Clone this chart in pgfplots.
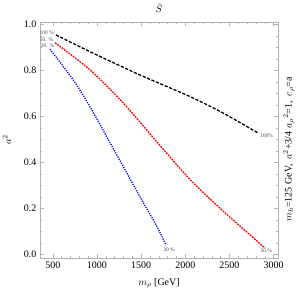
\documentclass[border=0pt]{standalone}
\usepackage{fontspec}
\setmainfont{Liberation Serif}
\usepackage{pgfplots}
\pgfplotsset{compat=1.18}
\begin{document}
\begin{tikzpicture}
\begin{axis}[
 at={(0,0)}, anchor=south west,
 scale only axis, width=238pt, height=236pt,
 xmin=355, xmax=3050, ymin=-0.015, ymax=1.01,
 xtick={500,1000,1500,2000,2500,3000},
 ytick={0,0.2,0.4,0.6,0.8,1.0},
 minor x tick num=4, minor y tick num=3,
 tick align=inside, major tick length=4pt, minor tick length=2.3pt,
 axis line style={gray!60}, tick style={gray!60, line width=0.4pt},
 /pgf/number format/assume math mode=true,
 ticklabel style={font=\fontsize{10}{10}\selectfont},
 xticklabel style={/pgf/number format/1000 sep={}},
 yticklabel style={/pgf/number format/fixed, /pgf/number format/fixed zerofill, /pgf/number format/precision=1},
 every axis x label/.style={at={(axis description cs:0.5,-0.106)}, anchor=center},
 every axis y label/.style={at={(axis description cs:-0.139,0.5)}, anchor=center, rotate=90},
 every axis title/.style={at={(axis description cs:0.5,1.059)}, anchor=center},
 xlabel={$m_\rho$ [GeV]}, ylabel={$a^2$}, title={$\hat{S}$},
 label style={font=\fontsize{10}{10}\selectfont},
 clip=false,
]
\addplot[black, line width=1.3pt, dash pattern=on 3.2pt off 1.6pt, smooth] coordinates {
 (536,0.954) (921,0.881) (1487,0.780) (2054,0.686) (2431,0.614) (2827,0.527)};
\addplot[red, line width=1.3pt, dash pattern=on 1.8pt off 1pt, smooth] coordinates {
 (525,0.920) (921,0.802) (1298,0.658) (1677,0.490) (2054,0.326) (2431,0.188) (2903,0.028)};
\addplot[blue, line width=1.3pt, dash pattern=on 1.2pt off 1.2pt, smooth] coordinates {
 (468,0.892) (732,0.758) (921,0.642) (1110,0.512) (1298,0.382) (1487,0.251) (1677,0.123) (1782,0.040)};
\begin{scope}[every node/.style={font=\fontsize{5.5}{5.5}\selectfont, text=black!70, inner sep=0pt}]
\node at (axis cs:430,0.962) {100 \%};
\node at (axis cs:430,0.932) {50. \%};
\node at (axis cs:440,0.906) {30. \%};
\node[anchor=west] at (axis cs:2845,0.515) {100\%};
\node[anchor=west] at (axis cs:2850,0.015) {50.\%};
\node at (axis cs:1816,0.02) {30.\%};
\end{scope}
\node[rotate=90, anchor=center, font=\fontsize{10}{10}\selectfont] at (axis description cs:1.046,0.46)
 {$m_h$=125 GeV,\ \ $a^2$+3/4 $a_\rho{}^2$=1,\ \ $c_\rho$=a};
\end{axis}
\pgfresetboundingbox
\path[use as bounding box] (-40pt,-36pt) rectangle (260pt,258pt);
\end{tikzpicture}
\end{document}
